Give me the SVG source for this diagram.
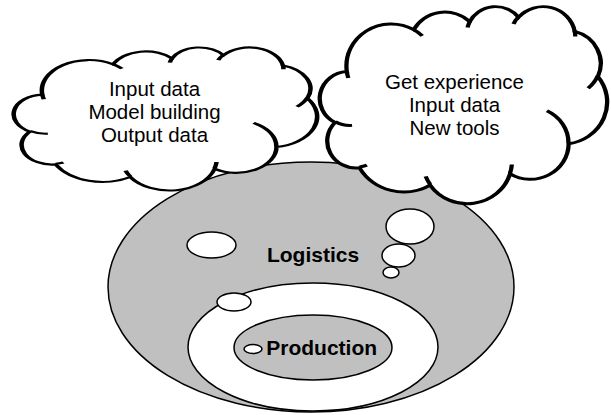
<svg xmlns="http://www.w3.org/2000/svg" width="611" height="415" viewBox="0 0 611 415">
<style>
.sh{stroke:#000;stroke-width:1.5;vector-effect:non-scaling-stroke}
.g{fill:#c0c0c0}
.w{fill:#fff}
.ln{fill:none;stroke:#000;stroke-width:1.5;vector-effect:non-scaling-stroke}
.t{font-family:"Liberation Sans",Arial,sans-serif;font-size:20.5px;fill:#000;text-anchor:middle}
.b{font-family:"Liberation Sans",Arial,sans-serif;font-size:21px;font-weight:bold;fill:#000;text-anchor:middle}
</style>
<defs>
<path id="cloudOut" d="M9.03 33.26A15.63 21.27 0 0 1 32.42 12.04A12.34 16.82 0 0 1 51.99 7.94A10.10 13.76 0 0 1 69.06 5.74A11.24 15.27 0 0 1 88.71 12.91A12.34 16.84 0 0 1 96.81 35.78A15.68 21.34 0 0 1 86.59 69.91A13.39 18.21 0 0 1 66.11 85.22A15.63 21.33 0 0 1 38.16 90.89A17.87 24.41 0 0 1 13.45 82.12A10.09 13.70 0 0 1 4.90 59.15A10.06 13.76 0 0 1 9.03 33.26Z"/>
<path id="cloudIn" d="M10.86 60.60A10.06 13.76 0 0 1 5.00 58.75M16.04 80.78A10.09 13.70 0 0 1 13.47 81.67M38.14 90.49A15.63 21.33 0 0 1 36.60 86.45M66.73 80.44A15.63 21.33 0 0 1 66.11 84.86M79.00 53.13A13.39 18.21 0 0 1 86.53 69.65M96.75 35.54A12.34 16.84 0 0 1 93.40 41.74M88.71 12.56A11.24 15.27 0 0 1 88.89 15.49M67.31 9.15A11.24 15.27 0 0 1 69.03 5.42M51.25 10.93A10.10 13.76 0 0 1 52.08 7.71M32.41 12.02A15.63 21.27 0 0 1 35.42 15.14M9.55 36.55A15.63 21.27 0 0 1 9.03 33.27"/>
</defs>
<g id="logistics">
<ellipse class="sh g" cx="311" cy="287" rx="203" ry="125"/>
</g>
<g id="cloud-left">
<g transform="translate(15 47) scale(3.02 1.43)">
<use href="#cloudOut" class="sh w"/>
<use href="#cloudIn" class="ln"/>
</g>
<text class="t" x="154.5" y="96">Input data</text>
<text class="t" x="154.5" y="119">Model building</text>
<text class="t" x="154.5" y="142">Output data</text>
</g>
<g id="cloud-right">
<g transform="translate(321 6) scale(2.86 1.97)">
<use href="#cloudOut" class="sh w"/>
<use href="#cloudIn" class="ln"/>
</g>
<text class="t" x="454.5" y="88.5">Get experience</text>
<text class="t" x="454.5" y="111.8">Input data</text>
<text class="t" x="454.5" y="135">New tools</text>
</g>
<g id="bubbles">
<ellipse class="sh w" cx="211.5" cy="245" rx="24.5" ry="13"/>
<ellipse class="sh w" cx="410" cy="226.5" rx="24" ry="17.5"/>
<ellipse class="sh w" cx="398.5" cy="255.5" rx="16.5" ry="11.5"/>
<ellipse class="sh w" cx="391" cy="272.5" rx="8" ry="5.5"/>
</g>
<text class="b" x="313" y="261.5">Logistics</text>
<g id="middle">
<ellipse class="sh w" cx="313" cy="347" rx="125" ry="64"/>
<ellipse class="sh w" cx="234" cy="302" rx="17" ry="9"/>
</g>
<g id="production">
<ellipse class="sh g" cx="313" cy="347.5" rx="79" ry="32.5"/>
<ellipse class="sh w" cx="253" cy="349" rx="9" ry="4.5"/>
<text class="b" x="321.7" y="354.5">Production</text>
</g>
</svg>
